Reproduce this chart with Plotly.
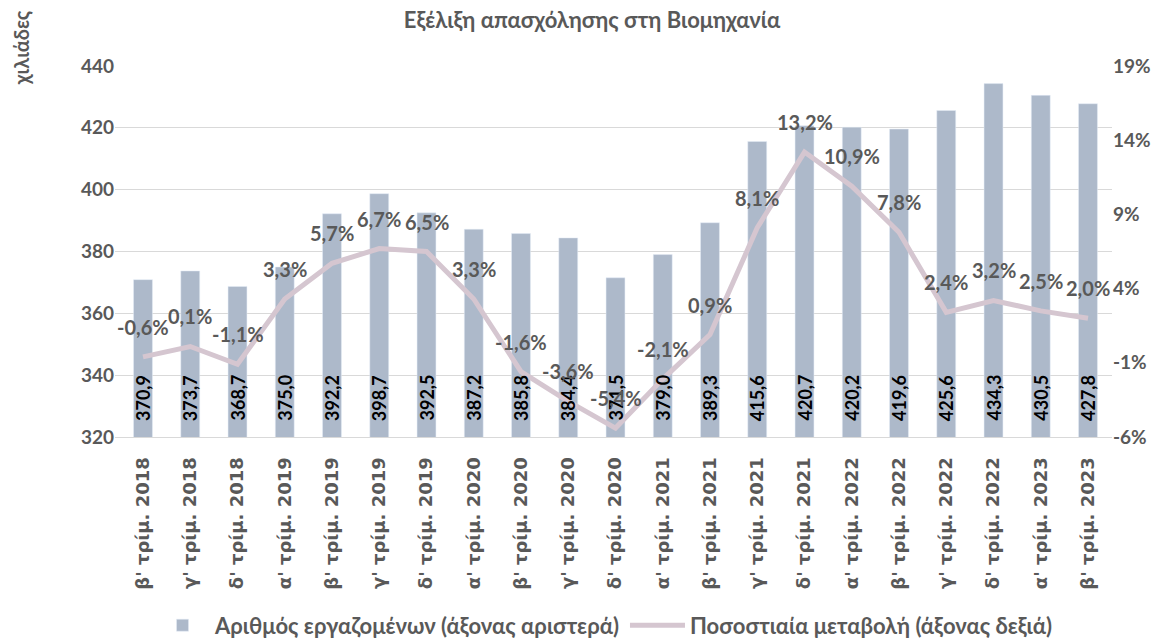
import plotly.graph_objects as go

quarters = ["β' τρίμ. 2018", "γ' τρίμ. 2018", "δ' τρίμ. 2018",
            "α' τρίμ. 2019", "β' τρίμ. 2019", "γ' τρίμ. 2019", "δ' τρίμ. 2019",
            "α' τρίμ. 2020", "β' τρίμ. 2020", "γ' τρίμ. 2020", "δ' τρίμ. 2020",
            "α' τρίμ. 2021", "β' τρίμ. 2021", "γ' τρίμ. 2021", "δ' τρίμ. 2021",
            "α' τρίμ. 2022", "β' τρίμ. 2022", "γ' τρίμ. 2022", "δ' τρίμ. 2022",
            "α' τρίμ. 2023", "β' τρίμ. 2023"]
employed = [370.9, 373.7, 368.7, 375.0, 392.2, 398.7, 392.5, 387.2, 385.8, 384.4, 371.5,
            379.0, 389.3, 415.6, 420.7, 420.2, 419.6, 425.6, 434.3, 430.5, 427.8]
pct_change = [-0.6, 0.1, -1.1, 3.3, 5.7, 6.7, 6.5, 3.3, -1.6, -3.6, -5.4,
              -2.1, 0.9, 8.1, 13.2, 10.9, 7.8, 2.4, 3.2, 2.5, 2.0]
right_ticks = [-6, -1, 4, 9, 14, 19]

grey = "#595959"
y_min, y_max = 320, 440

fig = go.Figure()
fig.add_trace(go.Bar(
    x=quarters, y=employed, name="Αριθμός εργαζομένων (άξονας αριστερά)",
    marker_color="#ADB9CA",
))
fig.add_trace(go.Scatter(
    x=quarters, y=pct_change, yaxis="y2", name="Ποσοστιαία μεταβολή (άξονας δεξιά)",
    mode="lines", line=dict(color="#D5C6D0", width=5),
))

# value labels at the foot of each bar, rotated
annotations = [dict(x=q, y=y_min, xref="x", yref="y", text=f"<b>{v:.1f}</b>".replace(".", ","),
                    textangle=-90, showarrow=False, yanchor="bottom", yshift=14,
                    font=dict(family="Lato", size=18, color="black"))
               for q, v in zip(quarters, employed)]
# percentage labels above the line
annotations += [dict(x=q, y=p, xref="x", yref="y2", text=f"<b>{p:.1f}%</b>".replace(".", ","),
                     showarrow=False, yanchor="middle", yshift=30,
                     font=dict(family="Lato", size=20, color=grey))
                for q, p in zip(quarters, pct_change)]
annotations.append(dict(text="<b>χιλιάδες</b>", textangle=-90, xref="paper", yref="paper",
                        x=-0.094, y=1.155, xanchor="center", yanchor="top", showarrow=False,
                        font=dict(family="Lato", size=20, color=grey)))

# page body adds an 8px offset, so the figure is 8px smaller than the window
fig.update_layout(
    width=1168, height=630,
    margin=dict(l=107, r=64, t=58, b=201),
    plot_bgcolor="white", paper_bgcolor="white",
    bargap=0.6,
    title=dict(text="<b>Εξέλιξη απασχόλησης στη Βιομηχανία</b>", x=0.5, xanchor="center",
               y=0.98, yanchor="middle", font=dict(family="Lato", size=22, color=grey)),
    xaxis=dict(tickangle=-90, tickfont=dict(family="DejaVu Sans", size=18, color=grey, weight="bold"),
               showgrid=False, linecolor="#D9D9D9", ticks="outside", ticklen=12, tickcolor="white",
               automargin=False),
    yaxis=dict(range=[y_min, y_max], dtick=20, gridcolor="#D9D9D9", zeroline=False,
               tickfont=dict(family="Lato", size=19, color=grey, weight="bold"), automargin=False),
    yaxis2=dict(overlaying="y", side="right", range=[-6, 19], tickvals=right_ticks,
                ticktext=[f"{t}%" for t in right_ticks],
                showgrid=False, zeroline=False, automargin=False,
                tickfont=dict(family="Lato", size=19, color=grey, weight="bold")),
    legend=dict(orientation="h", x=0.49, xanchor="center", yref="container", y=0.02,
                yanchor="middle",
                font=dict(family="Lato", size=22, color=grey, weight="bold"),
                itemwidth=55),
    showlegend=True,
    annotations=annotations,
)

fig.write_html("out.html")
